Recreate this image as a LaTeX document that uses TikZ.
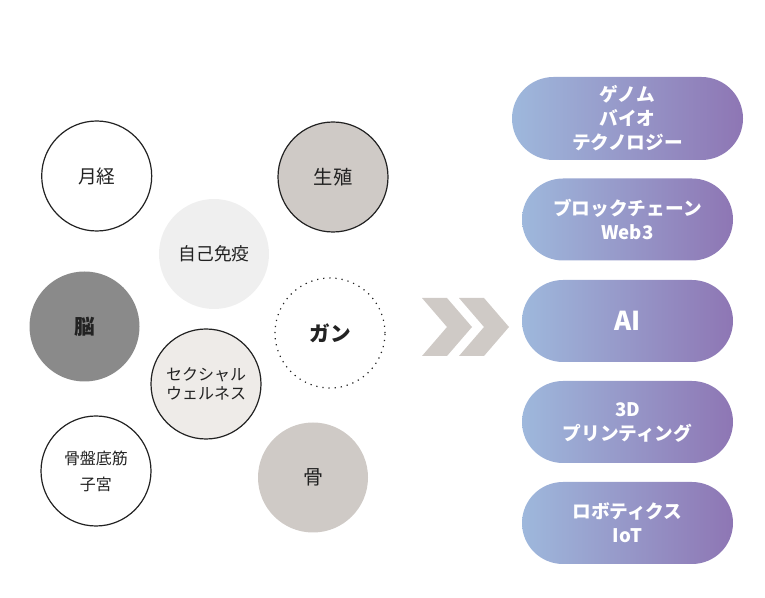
\documentclass[tikz,border=0pt]{standalone}
\usepackage{fontspec}
\newfontfamily\jp{Noto Sans CJK JP}
\usetikzlibrary{shapes.misc}
\definecolor{ink}{HTML}{222222}
\definecolor{warm}{HTML}{CFCAC6}
\definecolor{pale}{HTML}{EFEFEF}
\definecolor{cream}{HTML}{EEEBE8}
\definecolor{brain}{HTML}{8A8A8A}
\definecolor{gl}{HTML}{9EB8DC}
\definecolor{gr}{HTML}{8E76B4}
\tikzset{
  bubble/.style={circle, minimum size=82.5pt, inner sep=0pt, align=center, text=ink, font=\jp\fontsize{14}{17}\selectfont},
  ring/.style={draw=ink, line width=0.9pt},
  pill/.style={rounded rectangle, minimum width=158.25pt, minimum height=61.5pt, inner sep=0pt,
    left color=gl, right color=gr, draw=none, text=white, align=center,
    font=\jp\bfseries\fontsize{14}{18}\selectfont},
  chev/.style={fill=warm, draw=none}
}
\begin{document}
\begin{tikzpicture}[x=0.75pt, y=-0.75pt]
\useasboundingbox (0,0) rectangle (765,598);
% circles
\node[bubble, ring, fill=white] (mens) at (96.7,176) {月経};
\node[bubble, ring, fill=warm, font=\jp\fontsize{14.5}{17}\selectfont] (repro) at (333,177) {生殖};
\node[bubble, fill=pale, font=\jp\fontsize{13.3}{17}\selectfont] (auto) at (214,254) {自己免疫};
\node[bubble, fill=brain, font=\jp\bfseries\fontsize{15.5}{17}\selectfont] (brainn) at (84.5,326.5) {脳};
\node[bubble, draw=ink, line width=0.9pt, dash pattern=on 0.9pt off 3.7pt, fill=white, font=\jp\bfseries\fontsize{15.5}{17}\selectfont] (cancer) at (330,333) {ガン};
\node[bubble, ring, fill=cream, font=\jp\fontsize{12}{14.3}\selectfont] (sexual) at (206,384) {セクシャル\\ウェルネス};
\node[bubble, ring, fill=white, font=\jp\fontsize{12}{19.5}\selectfont] (pelvic) at (96,471) {骨盤底筋\\子宮};
\node[bubble, fill=warm, font=\jp\fontsize{15}{17}\selectfont] (bone) at (313,477.5) {骨};
% chevrons
\fill[chev] (422,298) -- (447,298) -- (472,327) -- (447,356) -- (422,356) -- (447,327) -- cycle;
\fill[chev] (459,298) -- (484,298) -- (509,327) -- (484,356) -- (459,356) -- (484,327) -- cycle;
% pills
\node[pill, minimum width=173.25pt, minimum height=62.25pt] (genome) at (627.5,118.5) {ゲノム\\バイオ\\テクノロジー};
\node[pill] (chain) at (627.5,219.5) {ブロックチェーン\\Web3};
\node[pill, font=\jp\bfseries\fontsize{19.5}{22}\selectfont] (ai) at (627.5,321) {AI};
\node[pill] (print) at (627.5,422) {3D\\プリンティング};
\node[pill] (robot) at (627.5,523) {ロボティクス\\IoT};
\end{tikzpicture}
\end{document}
